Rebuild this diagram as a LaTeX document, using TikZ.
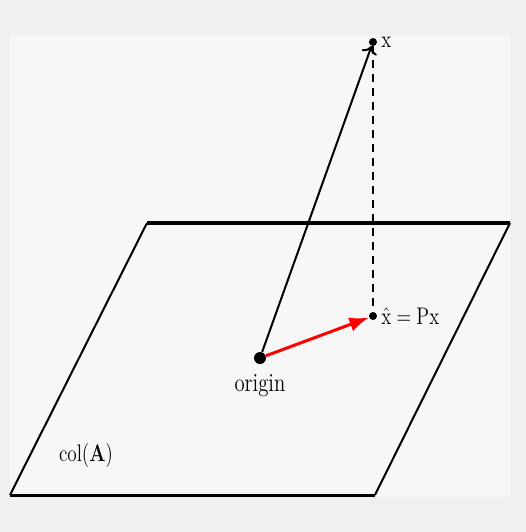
\documentclass[tikz,border=0pt]{standalone}
\usepackage{amsmath, amssymb, bm}
\usetikzlibrary{positioning, arrows.meta}

\begin{document}
\begin{tikzpicture}[x=0.5pt, y=-0.5pt,
		punto/.style={circle, fill=black, inner sep=0pt, minimum size=#1},
		punto/.default=4pt,
		etiqueta/.style={font=\fontsize{13}{15}\selectfont, xscale=0.8, inner sep=1pt}]
			% Fondo
			\fill[black!6] (0,0) rectangle (526,532);
			\fill[black!3] (10,35) rectangle (510,497);
			\useasboundingbox (0,0) rectangle (526,532);

			% Plano col(A)
			\draw[line width=1pt] (10,495) -- (147,223);
			\draw[line width=1pt] (375,495) -- (510,223);
			\draw[line width=2pt] (147,223) -- (510,223);
			\draw[line width=1.5pt] (10,495) -- (375,495);
			\node[etiqueta] (col) at (86,455) {$\mathrm{col}(\mathbf{A})$};

			% Puntos
			\node[punto=6pt] (o) at (260,358) {};
			\node[punto] (x) at (373,42) {};
			\node[punto] (xh) at (373,316) {};

			% Etiquetas
			\node[etiqueta, right=1pt of x] (lx) {$\mathrm{x}$};
			\node[etiqueta, right=1pt of xh] (lxh) {$\hat{\mathrm{x}} = \mathrm{P}\mathrm{x}$};
			\node[etiqueta, below=4pt of o] (lo) {origin};

			% Vectores
			\draw[->, line width=1pt] (o) -- (x);
			\draw[dash pattern=on 4pt off 3pt, line width=0.8pt] (x) -- (xh);
			\draw[-{Latex}, red, line width=1.5pt] (o) -- (xh);

		\end{tikzpicture}
\end{document}
